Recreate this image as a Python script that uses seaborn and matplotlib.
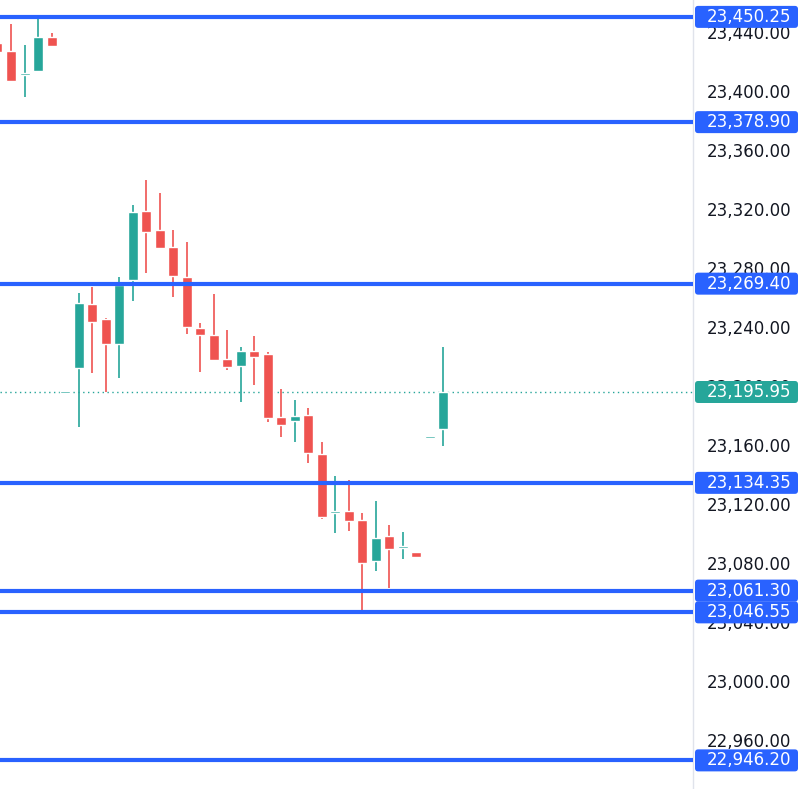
import numpy as np
import matplotlib
matplotlib.use("Agg")
import matplotlib.pyplot as plt
import matplotlib.transforms as mtransforms
from matplotlib.patches import FancyBboxPatch
from matplotlib.ticker import FuncFormatter, MultipleLocator
import seaborn as sns

# candles, oldest first (first one is cut off at the left edge)
opens = [23432.5, 23427.1, 23410.6, 23413.6, 23436.6, 23195.1, 23212.2, 23255.6, 23245.4,
         23228.5, 23271.9, 23318.6, 23305.8, 23294.2, 23273.9, 23239.3, 23234.6, 23218.3,
         23213.6, 23223.7, 23221.7, 23179.0, 23176.3, 23180.3, 23153.9, 23113.6, 23115.3,
         23109.2, 23081.4, 23098.3, 23090.0, 23087.5, 23164.5, 23170.8]
closes = [23426.4, 23406.8, 23411.0, 23436.6, 23430.5, 23195.5, 23256.3, 23243.4, 23228.5,
          23268.5, 23318.0, 23304.4, 23293.6, 23274.6, 23240.0, 23234.6, 23217.6, 23212.9,
          23223.7, 23219.7, 23178.3, 23173.6, 23179.7, 23154.6, 23111.2, 23114.2, 23108.5,
          23080.0, 23096.9, 23089.5, 23090.4, 23084.1, 23165.0, 23195.95]
highs = [23434.0, 23445.4, 23431.2, 23450.2, 23439.3, 23195.5, 23263.1, 23267.1, 23246.1,
         23273.9, 23322.7, 23339.7, 23330.8, 23305.8, 23297.6, 23242.7, 23262.4, 23238.0,
         23226.4, 23233.9, 23223.0, 23198.0, 23190.5, 23185.1, 23162.0, 23139.0, 23136.3,
         23113.9, 23122.0, 23105.8, 23101.0, 23087.5, 23165.0, 23226.4]
lows = [23424.0, 23406.1, 23395.9, 23412.9, 23430.0, 23195.1, 23172.2, 23208.8, 23195.9,
        23205.4, 23257.6, 23276.6, 23292.9, 23260.3, 23235.3, 23209.5, 23216.9, 23210.8,
        23189.2, 23200.7, 23175.6, 23165.4, 23162.0, 23147.8, 23109.8, 23100.3, 23101.7,
        23046.1, 23074.6, 23063.1, 23082.7, 23084.1, 23164.5, 23159.3]

levels = [23450.25, 23378.90, 23269.40, 23134.35, 23061.30, 23046.55, 22946.20]
last_price = 23195.95

UP = '#26a69a'
DOWN = '#ef5350'
BLUE = '#2962ff'

sns.set_style('white')
plt.rcParams['font.family'] = ['DejaVu Sans']

fig = plt.figure(figsize=(8, 7.89), dpi=100)
ax = fig.add_axes([0, 0, 693 / 800, 1])

x = np.arange(-1, len(opens) - 1)
o = np.array(opens)
c = np.array(closes)
colors = [UP if cc >= oo else DOWN for oo, cc in zip(o, c)]
body_low = np.minimum(o, c)
body_h = np.maximum(np.abs(c - o), 1.5)

ax.vlines(x, lows, highs, colors=colors, lw=1.2, zorder=2)
ax.bar(x, body_h, bottom=body_low, width=0.74, color=colors, zorder=3)

for lv in levels:
    ax.axhline(lv, color=BLUE, lw=3, zorder=4)
ax.axhline(last_price, color=UP, lw=1, ls=(0, (1, 2.5)), zorder=1)

ax.set_xlim(-0.815, 50.5)
ax.set_ylim(22926.8, 23461.7)

ax.yaxis.tick_right()
ax.yaxis.set_major_locator(MultipleLocator(40))
ax.yaxis.set_major_formatter(FuncFormatter(lambda v, p: f'{v:,.2f}'))
ax.tick_params(axis='y', length=0, pad=10, labelsize=12, labelcolor='#131722')
ax.set_xticks([])
for s in ['left', 'top', 'bottom']:
    ax.spines[s].set_visible(False)
ax.spines['right'].set_color('#e0e3eb')
ax.spines['right'].set_linewidth(1)

# price label boxes on the axis
trans = mtransforms.blended_transform_factory(fig.transFigure, ax.transData)
px_per_unit = 789 / (23461.7 - 22926.8)
box_h = 22 / px_per_unit
for lv, col in [(v, BLUE) for v in levels] + [(last_price, UP)]:
    box = FancyBboxPatch((695 / 800, lv - box_h / 2), 103 / 800, box_h,
                         boxstyle='round,pad=0,rounding_size=0.004',
                         mutation_aspect=800 / px_per_unit,
                         transform=trans, facecolor=col, edgecolor='none',
                         clip_on=False, zorder=10)
    fig.add_artist(box)
    fig.text(707 / 800, lv, f'{lv:,.2f}', transform=trans, color='white',
             fontsize=12, ha='left', va='center', zorder=11)

fig.savefig('out.png', dpi=100)
